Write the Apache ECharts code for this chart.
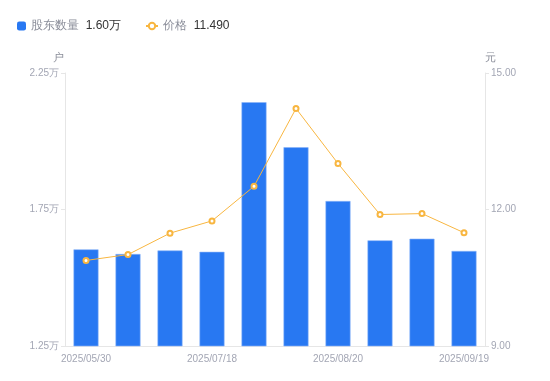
<!DOCTYPE html>
<html>
<head>
<meta charset="utf-8">
<script src="https://cdn.jsdelivr.net/npm/echarts@6/dist/echarts.min.js"></script>
<style>html,body{margin:0;padding:0;background:#fff;}#c{width:550px;height:381px;}</style>
</head>
<body>
<div id="c"></div>
<script>
var categories = ['2025/05/30','2025/06/20','2025/06/30','2025/07/18','2025/07/31','2025/08/10','2025/08/20','2025/08/31','2025/09/10','2025/09/19'];
var holders = [1.604, 1.587, 1.600, 1.595, 2.143, 1.978, 1.781, 1.637, 1.643, 1.598];
var prices = [10.88, 11.01, 11.48, 11.75, 12.51, 14.22, 13.01, 11.89, 11.91, 11.49];
var leftTicks = {min: 1.25, max: 2.25, interval: 0.5};
var rightTicks = {min: 9, max: 15, interval: 3};

var chart = echarts.init(document.getElementById('c'));
var lastH = holders[holders.length-1].toFixed(2) + '万';
var lastP = prices[prices.length-1].toFixed(3);
var labelColor = '#a3a6b4';
var richText = {
  a: {color: '#8a8d99', fontSize: 12},
  b: {color: '#333', fontSize: 12}
};
chart.setOption({
  animation: false,
  legend: [{
    left: 12, top: 15,
    itemWidth: 9, itemHeight: 9,
    data: [{name:'股东数量', icon:'roundRect', itemStyle: {borderWidth: 0, color: '#2878f2'}}],
    formatter: function(n){ return '{a|' + n + '}  {b|' + lastH + '}'; },
    textStyle: {rich: richText}
  }, {
    left: 140, top: 15,
    itemWidth: 12, itemHeight: 8,
    data: [{name:'价格'}],
    formatter: function(n){ return '{a|' + n + '}  {b|' + lastP + '}'; },
    textStyle: {rich: richText}
  }],
  grid: {left: 65, right: 65, top: 73, bottom: 35},
  xAxis: {
    type: 'category',
    data: categories,
    axisLine: {lineStyle: {color: '#e6e6e6'}},
    axisTick: {show: false},
    axisLabel: {color: labelColor, fontSize: 10, interval: 2, margin: 8}
  },
  yAxis: [{
    type: 'value', name: '户',
    min: leftTicks.min, max: leftTicks.max, interval: leftTicks.interval,
    nameTextStyle: {color: '#8a8d99', fontSize: 11, align: 'right', padding: [0, 1, 0, 0]},
    nameGap: 10,
    axisLine: {show: true, lineStyle: {color: '#e6e6e6'}},
    axisTick: {show: true, length: 4, lineStyle: {color: '#e6e6e6'}},
    splitLine: {show: false},
    axisLabel: {color: labelColor, fontSize: 10, margin: 6, formatter: function(v){return v.toFixed(2)+'万';}}
  }, {
    type: 'value', name: '元',
    min: rightTicks.min, max: rightTicks.max, interval: rightTicks.interval,
    nameTextStyle: {color: '#8a8d99', fontSize: 11, align: 'left', padding: [0, 0, 0, 0]},
    nameGap: 10,
    axisLine: {show: true, lineStyle: {color: '#e6e6e6'}},
    axisTick: {show: true, length: 4, lineStyle: {color: '#e6e6e6'}},
    splitLine: {show: false},
    axisLabel: {color: labelColor, fontSize: 10, margin: 6, formatter: function(v){return v.toFixed(2);}}
  }],
  series: [{
    name: '股东数量', type: 'bar', yAxisIndex: 0,
    data: holders, barWidth: 25,
    itemStyle: {color: '#2878f2', borderColor: '#8ab4f8', borderWidth: 0.6}
  }, {
    name: '价格', type: 'line', yAxisIndex: 1,
    data: prices,
    symbol: 'emptyCircle', symbolSize: 5,
    lineStyle: {color: '#f8b640', width: 1},
    itemStyle: {color: '#f8b640', borderWidth: 2}
  }]
});
</script>
</body>
</html>
